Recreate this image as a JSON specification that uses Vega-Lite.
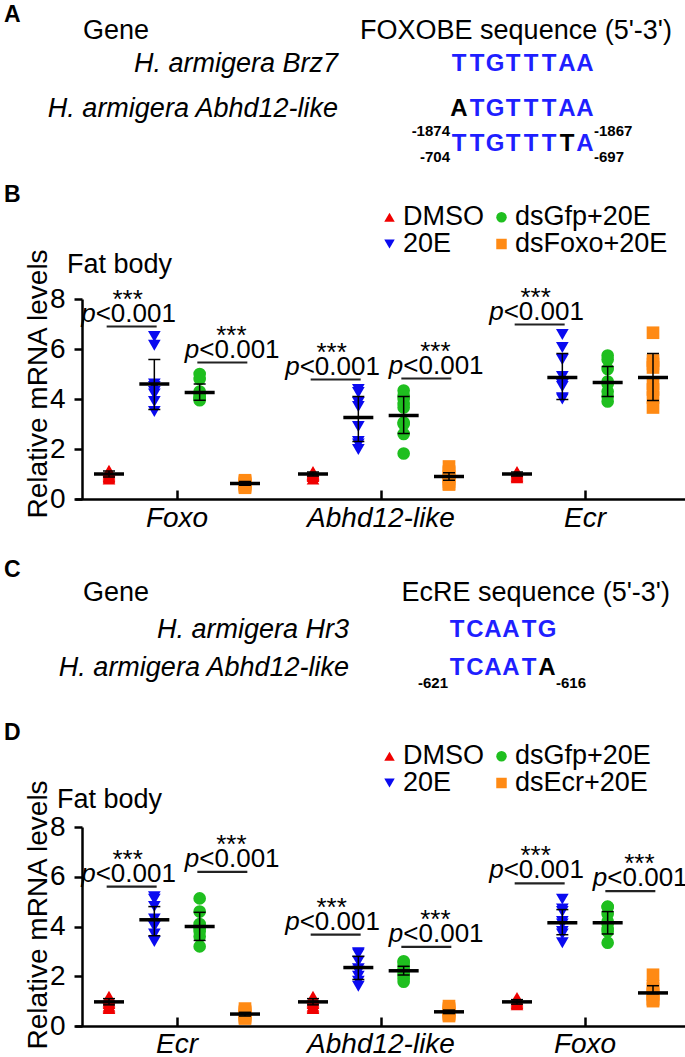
{
"$schema":"https://vega.github.io/schema/vega-lite/v6.json",
"padding":{"left":4,"top":0,"right":0,"bottom":0},
"spacing":0,
"bounds":"flush",
"resolve":{"scale":{"color":"independent","shape":"independent","x":"independent","y":"independent","xOffset":"independent"},"legend":{"color":"independent","shape":"independent"},"axis":{"x":"independent","y":"independent"}},
"config":{"font":"Liberation Sans","view":{"stroke":null},"tick":{"opacity":1},"point":{"opacity":1}},
"datasets":{
"txtA":[
{"t":"A","c":0,"ln":0,"s":"label"},
{"t":"Gene","c":1,"ln":1,"s":"head"},
{"t":"FOXOBE sequence (5'-3')","c":3,"ln":1,"s":"headR"},
{"t":"H. armigera Brz7","c":2,"ln":2,"s":"sp"},
{"t":"H. armigera Abhd12-like","c":2,"ln":3,"s":"sp"},
{"t":"B","c":0,"ln":7,"s":"label"},
{"t":"Fat body","c":4,"ln":8,"s":"head"}
],
"seqA":[
{"ln":2,"i":0,"b":"T","m":"y"},{"ln":2,"i":1,"b":"T","m":"y"},{"ln":2,"i":2,"b":"G","m":"y"},{"ln":2,"i":3,"b":"T","m":"y"},{"ln":2,"i":4,"b":"T","m":"y"},{"ln":2,"i":5,"b":"T","m":"y"},{"ln":2,"i":6,"b":"A","m":"y"},{"ln":2,"i":7,"b":"A","m":"y"},
{"ln":3,"i":0,"b":"A","m":"n"},{"ln":3,"i":1,"b":"T","m":"y"},{"ln":3,"i":2,"b":"G","m":"y"},{"ln":3,"i":3,"b":"T","m":"y"},{"ln":3,"i":4,"b":"T","m":"y"},{"ln":3,"i":5,"b":"T","m":"y"},{"ln":3,"i":6,"b":"A","m":"y"},{"ln":3,"i":7,"b":"A","m":"y"},
{"ln":5,"i":0,"b":"T","m":"y"},{"ln":5,"i":1,"b":"T","m":"y"},{"ln":5,"i":2,"b":"G","m":"y"},{"ln":5,"i":3,"b":"T","m":"y"},{"ln":5,"i":4,"b":"T","m":"y"},{"ln":5,"i":5,"b":"T","m":"y"},{"ln":5,"i":6,"b":"T","m":"n"},{"ln":5,"i":7,"b":"A","m":"y"}
],
"subA":[
{"t":"-1874","i":-0.5,"ln":4,"side":"L"},{"t":"-1867","i":7.5,"ln":4,"side":"R"},
{"t":"-704","i":-0.5,"ln":6,"side":"L"},{"t":"-697","i":7.5,"ln":6,"side":"R"}
],
"txtC":[
{"t":"C","c":0,"ln":0,"s":"label"},
{"t":"Gene","c":1,"ln":1,"s":"head"},
{"t":"EcRE sequence (5'-3')","c":3,"ln":1,"s":"headR"},
{"t":"H. armigera Hr3","c":2,"ln":2,"s":"sp"},
{"t":"H. armigera Abhd12-like","c":2,"ln":3,"s":"sp"},
{"t":"D","c":0,"ln":5,"s":"label"},
{"t":"Fat body","c":4,"ln":6,"s":"head"}
],
"seqC":[
{"ln":2,"i":0,"b":"T","m":"y"},{"ln":2,"i":1,"b":"C","m":"y"},{"ln":2,"i":2,"b":"A","m":"y"},{"ln":2,"i":3,"b":"A","m":"y"},{"ln":2,"i":4,"b":"T","m":"y"},{"ln":2,"i":5,"b":"G","m":"y"},
{"ln":3,"i":0,"b":"T","m":"y"},{"ln":3,"i":1,"b":"C","m":"y"},{"ln":3,"i":2,"b":"A","m":"y"},{"ln":3,"i":3,"b":"A","m":"y"},{"ln":3,"i":4,"b":"T","m":"y"},{"ln":3,"i":5,"b":"A","m":"n"}
],
"subC":[
{"t":"-621","i":-0.5,"ln":4,"side":"L"},{"t":"-616","i":5.5,"ln":4,"side":"R"}
],
"ptsB":[
{"gene":"Foxo","g":"DMSO","v":1.15},{"gene":"Foxo","g":"DMSO","v":1.1},{"gene":"Foxo","g":"DMSO","v":1.0},{"gene":"Foxo","g":"DMSO","v":0.95},{"gene":"Foxo","g":"DMSO","v":0.9},{"gene":"Foxo","g":"DMSO","v":0.85},{"gene":"Foxo","g":"DMSO","v":1.05},{"gene":"Foxo","g":"DMSO","v":0.8},
{"gene":"Foxo","g":"20E","v":6.5},{"gene":"Foxo","g":"20E","v":6.15},{"gene":"Foxo","g":"20E","v":4.6},{"gene":"Foxo","g":"20E","v":4.5},{"gene":"Foxo","g":"20E","v":4.3},{"gene":"Foxo","g":"20E","v":4.2},{"gene":"Foxo","g":"20E","v":3.9},{"gene":"Foxo","g":"20E","v":3.5},
{"gene":"Foxo","g":"dsGfp+20E","v":5.0},{"gene":"Foxo","g":"dsGfp+20E","v":4.8},{"gene":"Foxo","g":"dsGfp+20E","v":4.3},{"gene":"Foxo","g":"dsGfp+20E","v":4.2},{"gene":"Foxo","g":"dsGfp+20E","v":4.1},{"gene":"Foxo","g":"dsGfp+20E","v":4.0},{"gene":"Foxo","g":"dsGfp+20E","v":4.05},{"gene":"Foxo","g":"dsGfp+20E","v":3.95},
{"gene":"Foxo","g":"dsFoxo+20E","v":0.75},{"gene":"Foxo","g":"dsFoxo+20E","v":0.7},{"gene":"Foxo","g":"dsFoxo+20E","v":0.65},{"gene":"Foxo","g":"dsFoxo+20E","v":0.6},{"gene":"Foxo","g":"dsFoxo+20E","v":0.55},{"gene":"Foxo","g":"dsFoxo+20E","v":0.5},{"gene":"Foxo","g":"dsFoxo+20E","v":0.45},{"gene":"Foxo","g":"dsFoxo+20E","v":0.6},
{"gene":"Abhd12-like","g":"DMSO","v":1.1},{"gene":"Abhd12-like","g":"DMSO","v":1.05},{"gene":"Abhd12-like","g":"DMSO","v":1.0},{"gene":"Abhd12-like","g":"DMSO","v":0.95},{"gene":"Abhd12-like","g":"DMSO","v":0.9},{"gene":"Abhd12-like","g":"DMSO","v":0.8},{"gene":"Abhd12-like","g":"DMSO","v":1.0},{"gene":"Abhd12-like","g":"DMSO","v":0.95},
{"gene":"Abhd12-like","g":"20E","v":4.38},{"gene":"Abhd12-like","g":"20E","v":4.26},{"gene":"Abhd12-like","g":"20E","v":3.86},{"gene":"Abhd12-like","g":"20E","v":3.7},{"gene":"Abhd12-like","g":"20E","v":2.9},{"gene":"Abhd12-like","g":"20E","v":2.3},{"gene":"Abhd12-like","g":"20E","v":2.2},{"gene":"Abhd12-like","g":"20E","v":1.98},
{"gene":"Abhd12-like","g":"dsGfp+20E","v":4.34},{"gene":"Abhd12-like","g":"dsGfp+20E","v":4.14},{"gene":"Abhd12-like","g":"dsGfp+20E","v":4.0},{"gene":"Abhd12-like","g":"dsGfp+20E","v":3.8},{"gene":"Abhd12-like","g":"dsGfp+20E","v":3.66},{"gene":"Abhd12-like","g":"dsGfp+20E","v":3.06},{"gene":"Abhd12-like","g":"dsGfp+20E","v":3.0},{"gene":"Abhd12-like","g":"dsGfp+20E","v":2.6},{"gene":"Abhd12-like","g":"dsGfp+20E","v":1.82},
{"gene":"Abhd12-like","g":"dsFoxo+20E","v":1.3},{"gene":"Abhd12-like","g":"dsFoxo+20E","v":1.1},{"gene":"Abhd12-like","g":"dsFoxo+20E","v":1.05},{"gene":"Abhd12-like","g":"dsFoxo+20E","v":0.9},{"gene":"Abhd12-like","g":"dsFoxo+20E","v":0.8},{"gene":"Abhd12-like","g":"dsFoxo+20E","v":0.7},{"gene":"Abhd12-like","g":"dsFoxo+20E","v":0.6},{"gene":"Abhd12-like","g":"dsFoxo+20E","v":0.58},
{"gene":"Ecr","g":"DMSO","v":1.1},{"gene":"Ecr","g":"DMSO","v":1.05},{"gene":"Ecr","g":"DMSO","v":1.0},{"gene":"Ecr","g":"DMSO","v":0.95},{"gene":"Ecr","g":"DMSO","v":0.9},{"gene":"Ecr","g":"DMSO","v":0.85},
{"gene":"Ecr","g":"20E","v":6.58},{"gene":"Ecr","g":"20E","v":6.06},{"gene":"Ecr","g":"20E","v":5.58},{"gene":"Ecr","g":"20E","v":4.9},{"gene":"Ecr","g":"20E","v":4.58},{"gene":"Ecr","g":"20E","v":4.5},{"gene":"Ecr","g":"20E","v":4.05},{"gene":"Ecr","g":"20E","v":4.0},
{"gene":"Ecr","g":"dsGfp+20E","v":5.74},{"gene":"Ecr","g":"dsGfp+20E","v":5.58},{"gene":"Ecr","g":"dsGfp+20E","v":5.2},{"gene":"Ecr","g":"dsGfp+20E","v":4.7},{"gene":"Ecr","g":"dsGfp+20E","v":4.6},{"gene":"Ecr","g":"dsGfp+20E","v":4.3},{"gene":"Ecr","g":"dsGfp+20E","v":4.1},{"gene":"Ecr","g":"dsGfp+20E","v":3.9},
{"gene":"Ecr","g":"dsFoxo+20E","v":6.65},{"gene":"Ecr","g":"dsFoxo+20E","v":5.54},{"gene":"Ecr","g":"dsFoxo+20E","v":5.4},{"gene":"Ecr","g":"dsFoxo+20E","v":5.26},{"gene":"Ecr","g":"dsFoxo+20E","v":4.6},{"gene":"Ecr","g":"dsFoxo+20E","v":4.38},{"gene":"Ecr","g":"dsFoxo+20E","v":4.06},{"gene":"Ecr","g":"dsFoxo+20E","v":3.66}
],
"sumB":[
{"gene":"Foxo","g":"DMSO","mean":1.0,"lo":0.88,"hi":1.12},
{"gene":"Foxo","g":"20E","mean":4.6,"lo":3.58,"hi":5.58},
{"gene":"Foxo","g":"dsGfp+20E","mean":4.26,"lo":3.95,"hi":4.6},
{"gene":"Foxo","g":"dsFoxo+20E","mean":0.62,"lo":0.55,"hi":0.7},
{"gene":"Abhd12-like","g":"DMSO","mean":1.0,"lo":0.92,"hi":1.08},
{"gene":"Abhd12-like","g":"20E","mean":3.26,"lo":2.3,"hi":4.1},
{"gene":"Abhd12-like","g":"dsGfp+20E","mean":3.34,"lo":2.62,"hi":4.1},
{"gene":"Abhd12-like","g":"dsFoxo+20E","mean":0.9,"lo":0.75,"hi":1.05},
{"gene":"Ecr","g":"DMSO","mean":1.0,"lo":0.92,"hi":1.08},
{"gene":"Ecr","g":"20E","mean":4.86,"lo":3.98,"hi":5.82},
{"gene":"Ecr","g":"dsGfp+20E","mean":4.66,"lo":4.1,"hi":5.3},
{"gene":"Ecr","g":"dsFoxo+20E","mean":4.86,"lo":3.94,"hi":5.82}
],
"sigB":[
{"gene":"Foxo","g":"L","y":6.9},{"gene":"Foxo","g":"R","y":5.46},
{"gene":"Abhd12-like","g":"L","y":4.78},{"gene":"Abhd12-like","g":"R","y":4.82},
{"gene":"Ecr","g":"L","y":6.98}
],
"ptsD":[
{"gene":"Ecr","g":"DMSO","v":1.2},{"gene":"Ecr","g":"DMSO","v":1.1},{"gene":"Ecr","g":"DMSO","v":1.0},{"gene":"Ecr","g":"DMSO","v":0.95},{"gene":"Ecr","g":"DMSO","v":0.9},{"gene":"Ecr","g":"DMSO","v":0.8},{"gene":"Ecr","g":"DMSO","v":0.75},{"gene":"Ecr","g":"DMSO","v":0.7},
{"gene":"Ecr","g":"20E","v":5.2},{"gene":"Ecr","g":"20E","v":5.1},{"gene":"Ecr","g":"20E","v":4.8},{"gene":"Ecr","g":"20E","v":4.3},{"gene":"Ecr","g":"20E","v":4.1},{"gene":"Ecr","g":"20E","v":4.0},{"gene":"Ecr","g":"20E","v":3.7},{"gene":"Ecr","g":"20E","v":3.4},
{"gene":"Ecr","g":"dsGfp+20E","v":5.13},{"gene":"Ecr","g":"dsGfp+20E","v":4.6},{"gene":"Ecr","g":"dsGfp+20E","v":4.1},{"gene":"Ecr","g":"dsGfp+20E","v":4.0},{"gene":"Ecr","g":"dsGfp+20E","v":3.9},{"gene":"Ecr","g":"dsGfp+20E","v":3.8},{"gene":"Ecr","g":"dsGfp+20E","v":3.6},{"gene":"Ecr","g":"dsGfp+20E","v":3.2},
{"gene":"Ecr","g":"dsEcr+20E","v":0.7},{"gene":"Ecr","g":"dsEcr+20E","v":0.6},{"gene":"Ecr","g":"dsEcr+20E","v":0.55},{"gene":"Ecr","g":"dsEcr+20E","v":0.5},{"gene":"Ecr","g":"dsEcr+20E","v":0.45},{"gene":"Ecr","g":"dsEcr+20E","v":0.4},{"gene":"Ecr","g":"dsEcr+20E","v":0.35},{"gene":"Ecr","g":"dsEcr+20E","v":0.3},
{"gene":"Abhd12-like","g":"DMSO","v":1.2},{"gene":"Abhd12-like","g":"DMSO","v":1.1},{"gene":"Abhd12-like","g":"DMSO","v":1.0},{"gene":"Abhd12-like","g":"DMSO","v":0.95},{"gene":"Abhd12-like","g":"DMSO","v":0.9},{"gene":"Abhd12-like","g":"DMSO","v":0.8},{"gene":"Abhd12-like","g":"DMSO","v":0.75},{"gene":"Abhd12-like","g":"DMSO","v":0.7},
{"gene":"Abhd12-like","g":"20E","v":2.95},{"gene":"Abhd12-like","g":"20E","v":2.9},{"gene":"Abhd12-like","g":"20E","v":2.6},{"gene":"Abhd12-like","g":"20E","v":2.3},{"gene":"Abhd12-like","g":"20E","v":2.2},{"gene":"Abhd12-like","g":"20E","v":2.0},{"gene":"Abhd12-like","g":"20E","v":1.8},{"gene":"Abhd12-like","g":"20E","v":1.6},
{"gene":"Abhd12-like","g":"dsGfp+20E","v":2.6},{"gene":"Abhd12-like","g":"dsGfp+20E","v":2.55},{"gene":"Abhd12-like","g":"dsGfp+20E","v":2.4},{"gene":"Abhd12-like","g":"dsGfp+20E","v":2.3},{"gene":"Abhd12-like","g":"dsGfp+20E","v":2.2},{"gene":"Abhd12-like","g":"dsGfp+20E","v":2.1},{"gene":"Abhd12-like","g":"dsGfp+20E","v":2.0},{"gene":"Abhd12-like","g":"dsGfp+20E","v":1.9},{"gene":"Abhd12-like","g":"dsGfp+20E","v":1.78},
{"gene":"Abhd12-like","g":"dsEcr+20E","v":0.8},{"gene":"Abhd12-like","g":"dsEcr+20E","v":0.7},{"gene":"Abhd12-like","g":"dsEcr+20E","v":0.65},{"gene":"Abhd12-like","g":"dsEcr+20E","v":0.6},{"gene":"Abhd12-like","g":"dsEcr+20E","v":0.55},{"gene":"Abhd12-like","g":"dsEcr+20E","v":0.5},{"gene":"Abhd12-like","g":"dsEcr+20E","v":0.45},{"gene":"Abhd12-like","g":"dsEcr+20E","v":0.4},
{"gene":"Foxo","g":"DMSO","v":1.15},{"gene":"Foxo","g":"DMSO","v":1.05},{"gene":"Foxo","g":"DMSO","v":1.0},{"gene":"Foxo","g":"DMSO","v":0.95},{"gene":"Foxo","g":"DMSO","v":0.9},{"gene":"Foxo","g":"DMSO","v":0.85},
{"gene":"Foxo","g":"20E","v":5.1},{"gene":"Foxo","g":"20E","v":4.7},{"gene":"Foxo","g":"20E","v":4.6},{"gene":"Foxo","g":"20E","v":4.2},{"gene":"Foxo","g":"20E","v":4.1},{"gene":"Foxo","g":"20E","v":3.8},{"gene":"Foxo","g":"20E","v":3.7},{"gene":"Foxo","g":"20E","v":3.35},
{"gene":"Foxo","g":"dsGfp+20E","v":4.8},{"gene":"Foxo","g":"dsGfp+20E","v":4.78},{"gene":"Foxo","g":"dsGfp+20E","v":4.5},{"gene":"Foxo","g":"dsGfp+20E","v":4.2},{"gene":"Foxo","g":"dsGfp+20E","v":4.1},{"gene":"Foxo","g":"dsGfp+20E","v":3.9},{"gene":"Foxo","g":"dsGfp+20E","v":3.8},{"gene":"Foxo","g":"dsGfp+20E","v":3.35},
{"gene":"Foxo","g":"dsEcr+20E","v":2.06},{"gene":"Foxo","g":"dsEcr+20E","v":1.6},{"gene":"Foxo","g":"dsEcr+20E","v":1.5},{"gene":"Foxo","g":"dsEcr+20E","v":1.3},{"gene":"Foxo","g":"dsEcr+20E","v":1.25},{"gene":"Foxo","g":"dsEcr+20E","v":1.1},{"gene":"Foxo","g":"dsEcr+20E","v":1.05},{"gene":"Foxo","g":"dsEcr+20E","v":1.0}
],
"sumD":[
{"gene":"Ecr","g":"DMSO","mean":0.97,"lo":0.85,"hi":1.1},
{"gene":"Ecr","g":"20E","mean":4.27,"lo":3.63,"hi":4.8},
{"gene":"Ecr","g":"dsGfp+20E","mean":4.0,"lo":3.44,"hi":4.57},
{"gene":"Ecr","g":"dsEcr+20E","mean":0.48,"lo":0.4,"hi":0.55},
{"gene":"Abhd12-like","g":"DMSO","mean":0.97,"lo":0.85,"hi":1.1},
{"gene":"Abhd12-like","g":"20E","mean":2.35,"lo":1.87,"hi":2.8},
{"gene":"Abhd12-like","g":"dsGfp+20E","mean":2.22,"lo":2.05,"hi":2.4},
{"gene":"Abhd12-like","g":"dsEcr+20E","mean":0.57,"lo":0.5,"hi":0.64},
{"gene":"Foxo","g":"DMSO","mean":0.97,"lo":0.88,"hi":1.06},
{"gene":"Foxo","g":"20E","mean":4.15,"lo":3.67,"hi":4.68},
{"gene":"Foxo","g":"dsGfp+20E","mean":4.15,"lo":3.7,"hi":4.6},
{"gene":"Foxo","g":"dsEcr+20E","mean":1.33,"lo":1.3,"hi":1.62}
],
"sigD":[
{"gene":"Ecr","g":"L","y":5.6},{"gene":"Ecr","g":"R","y":6.2},
{"gene":"Abhd12-like","g":"L","y":3.67},{"gene":"Abhd12-like","g":"R","y":3.18},
{"gene":"Foxo","g":"L","y":5.73},{"gene":"Foxo","g":"R","y":5.42}
]
},
"vconcat":[
{
"width":600,"height":299,
"resolve":{"scale":{"x":"independent"}},
"encoding":{"y":{"field":"ln","type":"quantitative","scale":{"domain":[0,1,2,3,4,5,6,7,8],"range":[14.5,31,64,109,131,144,157,195,265],"nice":false,"zero":false},"axis":null}},
"layer":[
{"data":{"name":"txtA"},"transform":[{"filter":"datum.s==='label'"}],"mark":{"type":"text","align":"left","baseline":"middle","fontSize":23,"fontWeight":"bold","color":"#000"},
"encoding":{"x":{"field":"c","type":"quantitative","scale":{"domain":[0,1,2,3,4],"range":[-78,1,256,590,-15],"nice":false,"zero":false},"axis":null},"text":{"field":"t"}}},
{"data":{"name":"txtA"},"transform":[{"filter":"datum.s==='head'"}],"mark":{"type":"text","align":"left","baseline":"middle","fontSize":27,"color":"#000"},
"encoding":{"x":{"field":"c","type":"quantitative","scale":{"domain":[0,1,2,3,4],"range":[-78,1,256,590,-15],"nice":false,"zero":false},"axis":null},"text":{"field":"t"}}},
{"data":{"name":"txtA"},"transform":[{"filter":"datum.s==='headR'"}],"mark":{"type":"text","align":"right","baseline":"middle","fontSize":27,"color":"#000"},
"encoding":{"x":{"field":"c","type":"quantitative","scale":{"domain":[0,1,2,3,4],"range":[-78,1,256,590,-15],"nice":false,"zero":false},"axis":null},"text":{"field":"t"}}},
{"data":{"name":"txtA"},"transform":[{"filter":"datum.s==='sp'"}],"mark":{"type":"text","align":"right","baseline":"middle","fontSize":27,"fontStyle":"italic","color":"#000"},
"encoding":{"x":{"field":"c","type":"quantitative","scale":{"domain":[0,1,2,3,4],"range":[-78,1,256,590,-15],"nice":false,"zero":false},"axis":null},"text":{"field":"t"}}},
{"data":{"name":"seqA"},"mark":{"type":"text","align":"center","baseline":"middle","fontSize":24,"fontWeight":"bold"},
"encoding":{"x":{"field":"i","type":"quantitative","scale":{"domain":[-0.5,7.5],"range":[368,512],"nice":false,"zero":false},"axis":null},"text":{"field":"b"},
"color":{"field":"m","type":"nominal","scale":{"domain":["y","n"],"range":["#1f1fff","#000000"]},"legend":null}}},
{"data":{"name":"subA"},"transform":[{"filter":"datum.side==='L'"}],"mark":{"type":"text","align":"right","baseline":"middle","fontSize":15,"fontWeight":"bold","color":"#000"},
"encoding":{"x":{"field":"i","type":"quantitative","scale":{"domain":[-0.5,7.5],"range":[368,512],"nice":false,"zero":false},"axis":null},"text":{"field":"t"}}},
{"data":{"name":"subA"},"transform":[{"filter":"datum.side==='R'"}],"mark":{"type":"text","align":"left","baseline":"middle","fontSize":15,"fontWeight":"bold","color":"#000"},
"encoding":{"x":{"field":"i","type":"quantitative","scale":{"domain":[-0.5,7.5],"range":[368,512],"nice":false,"zero":false},"axis":null},"text":{"field":"t"}}}
]
},
{
"width":600,"height":200,
"encoding":{
"x":{"field":"gene","type":"nominal","sort":null,"scale":{"domain":["Foxo","Abhd12-like","Ecr"],"range":[-7,605],"paddingInner":0,"paddingOuter":0},"axis":{"title":null,"labelAngle":0,"labelFontSize":28,"labelFontStyle":"italic","labelColor":"#000","tickSize":-9,"tickWidth":2.5,"tickColor":"#000","domainWidth":2.5,"domainColor":"#000","labelPadding":14}},
"xOffset":{"field":"g","type":"nominal","sort":null,"scale":{"domain":["DMSO","L","20E","C","dsGfp+20E","R","dsFoxo+20E"],"paddingInner":0,"paddingOuter":1}}
},
"layer":[
{"data":{"name":"ptsB"},"mark":{"type":"point","filled":true,"opacity":1,"size":160,"strokeWidth":0},
"encoding":{
"y":{"field":"v","type":"quantitative","title":"Relative mRNA levels","scale":{"domain":[0,8],"nice":false},"axis":{"values":[0,2,4,6,8],"grid":false,"titleFontSize":28,"titleFontWeight":"normal","titleColor":"#000","titleAngle":-90,"titleX":-44,"titleY":84.5,"titleAlign":"center","titleBaseline":"middle","labelFontSize":28,"labelColor":"#000","tickSize":8,"tickWidth":2.5,"tickColor":"#000","domainWidth":2.5,"domainColor":"#000","labelPadding":9}},
"color":{"field":"g","type":"nominal","scale":{"domain":["DMSO","20E","dsGfp+20E","dsFoxo+20E"],"range":["#f00000","#0a0af0","#1fbf1f","#ff8a14"]},"legend":{"title":null,"orient":"none","legendX":294,"legendY":-95.5,"columns":2,"labelFontSize":27,"labelColor":"#000","symbolSize":110,"labelOffset":0,"columnPadding":4,"rowPadding":-2,"padding":0}},
"shape":{"field":"g","type":"nominal","scale":{"domain":["DMSO","20E","dsGfp+20E","dsFoxo+20E"],"range":["triangle-up","triangle-down","circle","square"]},"legend":{"title":null,"orient":"none","legendX":294,"legendY":-95.5,"columns":2,"labelFontSize":27,"labelColor":"#000","symbolSize":110,"labelOffset":0,"columnPadding":4,"rowPadding":-2,"padding":0}}
}},
{"data":{"name":"sumB"},"mark":{"type":"rule","color":"#000","strokeWidth":1.5,"opacity":1},"encoding":{"y":{"field":"lo","type":"quantitative","title":"Relative mRNA levels"},"y2":{"field":"hi"}}},
{"data":{"name":"sumB"},"mark":{"type":"tick","color":"#000","size":12,"thickness":1.5,"opacity":1},"encoding":{"y":{"field":"hi","type":"quantitative","title":"Relative mRNA levels"}}},
{"data":{"name":"sumB"},"mark":{"type":"tick","color":"#000","size":12,"thickness":1.5,"opacity":1},"encoding":{"y":{"field":"lo","type":"quantitative","title":"Relative mRNA levels"}}},
{"data":{"name":"sumB"},"mark":{"type":"tick","color":"#000","size":30,"thickness":3.5,"opacity":1},"encoding":{"y":{"field":"mean","type":"quantitative","title":"Relative mRNA levels"}}},
{"data":{"name":"sigB"},"mark":{"type":"tick","color":"#222","size":50,"thickness":2.2,"opacity":1},"encoding":{"y":{"field":"y","type":"quantitative","title":"Relative mRNA levels"}}},
{"data":{"name":"sigB"},"transform":[{"filter":"datum.g==='L'"}],"mark":{"type":"text","text":"***","fontSize":26,"baseline":"middle","dx":-4,"dy":-27,"color":"#000"},"encoding":{"y":{"field":"y","type":"quantitative","title":"Relative mRNA levels"}}},
{"data":{"name":"sigB"},"transform":[{"filter":"datum.g==='L'"}],"mark":{"type":"text","text":"p","fontSize":26,"fontStyle":"italic","align":"right","baseline":"middle","dx":-36,"dy":-13,"color":"#000"},"encoding":{"y":{"field":"y","type":"quantitative","title":"Relative mRNA levels"}}},
{"data":{"name":"sigB"},"transform":[{"filter":"datum.g==='L'"}],"mark":{"type":"text","text":"<0.001","fontSize":26,"align":"left","baseline":"middle","dx":-36,"dy":-13,"color":"#000"},"encoding":{"y":{"field":"y","type":"quantitative","title":"Relative mRNA levels"}}},
{"data":{"name":"sigB"},"transform":[{"filter":"datum.g==='R'"}],"mark":{"type":"text","text":"***","fontSize":26,"baseline":"middle","dx":9,"dy":-27,"color":"#000"},"encoding":{"y":{"field":"y","type":"quantitative","title":"Relative mRNA levels"}}},
{"data":{"name":"sigB"},"transform":[{"filter":"datum.g==='R'"}],"mark":{"type":"text","text":"p","fontSize":26,"fontStyle":"italic","align":"right","baseline":"middle","dx":-23,"dy":-13,"color":"#000"},"encoding":{"y":{"field":"y","type":"quantitative","title":"Relative mRNA levels"}}},
{"data":{"name":"sigB"},"transform":[{"filter":"datum.g==='R'"}],"mark":{"type":"text","text":"<0.001","fontSize":26,"align":"left","baseline":"middle","dx":-23,"dy":-13,"color":"#000"},"encoding":{"y":{"field":"y","type":"quantitative","title":"Relative mRNA levels"}}}
]
},
{
"width":600,"height":328,
"resolve":{"scale":{"x":"independent"}},
"encoding":{"y":{"field":"ln","type":"quantitative","scale":{"domain":[0,1,2,3,4,5,6],"range":[71,94,131,169,184,234,301],"nice":false,"zero":false},"axis":null}},
"layer":[
{"data":{"name":"txtC"},"transform":[{"filter":"datum.s==='label'"}],"mark":{"type":"text","align":"left","baseline":"middle","fontSize":23,"fontWeight":"bold","color":"#000"},
"encoding":{"x":{"field":"c","type":"quantitative","scale":{"domain":[0,1,2,3,4],"range":[-78,1,267,588,-25],"nice":false,"zero":false},"axis":null},"text":{"field":"t"}}},
{"data":{"name":"txtC"},"transform":[{"filter":"datum.s==='head'"}],"mark":{"type":"text","align":"left","baseline":"middle","fontSize":27,"color":"#000"},
"encoding":{"x":{"field":"c","type":"quantitative","scale":{"domain":[0,1,2,3,4],"range":[-78,1,267,588,-25],"nice":false,"zero":false},"axis":null},"text":{"field":"t"}}},
{"data":{"name":"txtC"},"transform":[{"filter":"datum.s==='headR'"}],"mark":{"type":"text","align":"right","baseline":"middle","fontSize":27,"color":"#000"},
"encoding":{"x":{"field":"c","type":"quantitative","scale":{"domain":[0,1,2,3,4],"range":[-78,1,267,588,-25],"nice":false,"zero":false},"axis":null},"text":{"field":"t"}}},
{"data":{"name":"txtC"},"transform":[{"filter":"datum.s==='sp'"}],"mark":{"type":"text","align":"right","baseline":"middle","fontSize":27,"fontStyle":"italic","color":"#000"},
"encoding":{"x":{"field":"c","type":"quantitative","scale":{"domain":[0,1,2,3,4],"range":[-78,1,267,588,-25],"nice":false,"zero":false},"axis":null},"text":{"field":"t"}}},
{"data":{"name":"seqC"},"mark":{"type":"text","align":"center","baseline":"middle","fontSize":24,"fontWeight":"bold"},
"encoding":{"x":{"field":"i","type":"quantitative","scale":{"domain":[-0.5,7.5],"range":[366,510],"nice":false,"zero":false},"axis":null},"text":{"field":"b"},
"color":{"field":"m","type":"nominal","scale":{"domain":["y","n"],"range":["#1f1fff","#000000"]},"legend":null}}},
{"data":{"name":"subC"},"transform":[{"filter":"datum.side==='L'"}],"mark":{"type":"text","align":"right","baseline":"middle","fontSize":15,"fontWeight":"bold","color":"#000"},
"encoding":{"x":{"field":"i","type":"quantitative","scale":{"domain":[-0.5,7.5],"range":[366,510],"nice":false,"zero":false},"axis":null},"text":{"field":"t"}}},
{"data":{"name":"subC"},"transform":[{"filter":"datum.side==='R'"}],"mark":{"type":"text","align":"left","baseline":"middle","fontSize":15,"fontWeight":"bold","color":"#000"},
"encoding":{"x":{"field":"i","type":"quantitative","scale":{"domain":[-0.5,7.5],"range":[366,510],"nice":false,"zero":false},"axis":null},"text":{"field":"t"}}}
]
},
{
"width":600,"height":199,
"encoding":{
"x":{"field":"gene","type":"nominal","sort":null,"scale":{"domain":["Ecr","Abhd12-like","Foxo"],"range":[-7,605],"paddingInner":0,"paddingOuter":0},"axis":{"title":null,"labelAngle":0,"labelFontSize":28,"labelFontStyle":"italic","labelColor":"#000","tickSize":-9,"tickWidth":2.5,"tickColor":"#000","domainWidth":2.5,"domainColor":"#000","labelPadding":13}},
"xOffset":{"field":"g","type":"nominal","sort":null,"scale":{"domain":["DMSO","L","20E","C","dsGfp+20E","R","dsEcr+20E"],"paddingInner":0,"paddingOuter":1}}
},
"layer":[
{"data":{"name":"ptsD"},"mark":{"type":"point","filled":true,"opacity":1,"size":160,"strokeWidth":0},
"encoding":{
"y":{"field":"v","type":"quantitative","title":"Relative mRNA levels","scale":{"domain":[0,8],"nice":false},"axis":{"values":[0,2,4,6,8],"grid":false,"titleFontSize":28,"titleFontWeight":"normal","titleColor":"#000","titleAngle":-90,"titleX":-44,"titleY":87.5,"titleAlign":"center","titleBaseline":"middle","labelFontSize":28,"labelColor":"#000","tickSize":8,"tickWidth":2.5,"tickColor":"#000","domainWidth":2.5,"domainColor":"#000","labelPadding":9}},
"color":{"field":"g","type":"nominal","scale":{"domain":["DMSO","20E","dsGfp+20E","dsEcr+20E"],"range":["#f00000","#0a0af0","#1fbf1f","#ff8a14"]},"legend":{"title":null,"orient":"none","legendX":294,"legendY":-84.5,"columns":2,"labelFontSize":27,"labelColor":"#000","symbolSize":110,"labelOffset":0,"columnPadding":4,"rowPadding":-6,"padding":0}},
"shape":{"field":"g","type":"nominal","scale":{"domain":["DMSO","20E","dsGfp+20E","dsEcr+20E"],"range":["triangle-up","triangle-down","circle","square"]},"legend":{"title":null,"orient":"none","legendX":294,"legendY":-84.5,"columns":2,"labelFontSize":27,"labelColor":"#000","symbolSize":110,"labelOffset":0,"columnPadding":4,"rowPadding":-6,"padding":0}}
}},
{"data":{"name":"sumD"},"mark":{"type":"rule","color":"#000","strokeWidth":1.5,"opacity":1},"encoding":{"y":{"field":"lo","type":"quantitative","title":"Relative mRNA levels"},"y2":{"field":"hi"}}},
{"data":{"name":"sumD"},"mark":{"type":"tick","color":"#000","size":12,"thickness":1.5,"opacity":1},"encoding":{"y":{"field":"hi","type":"quantitative","title":"Relative mRNA levels"}}},
{"data":{"name":"sumD"},"mark":{"type":"tick","color":"#000","size":12,"thickness":1.5,"opacity":1},"encoding":{"y":{"field":"lo","type":"quantitative","title":"Relative mRNA levels"}}},
{"data":{"name":"sumD"},"mark":{"type":"tick","color":"#000","size":30,"thickness":3.5,"opacity":1},"encoding":{"y":{"field":"mean","type":"quantitative","title":"Relative mRNA levels"}}},
{"data":{"name":"sigD"},"mark":{"type":"tick","color":"#222","size":50,"thickness":2.2,"opacity":1},"encoding":{"y":{"field":"y","type":"quantitative","title":"Relative mRNA levels"}}},
{"data":{"name":"sigD"},"transform":[{"filter":"datum.g==='L'"}],"mark":{"type":"text","text":"***","fontSize":26,"baseline":"middle","dx":-4,"dy":-27,"color":"#000"},"encoding":{"y":{"field":"y","type":"quantitative","title":"Relative mRNA levels"}}},
{"data":{"name":"sigD"},"transform":[{"filter":"datum.g==='L'"}],"mark":{"type":"text","text":"p","fontSize":26,"fontStyle":"italic","align":"right","baseline":"middle","dx":-36,"dy":-13,"color":"#000"},"encoding":{"y":{"field":"y","type":"quantitative","title":"Relative mRNA levels"}}},
{"data":{"name":"sigD"},"transform":[{"filter":"datum.g==='L'"}],"mark":{"type":"text","text":"<0.001","fontSize":26,"align":"left","baseline":"middle","dx":-36,"dy":-13,"color":"#000"},"encoding":{"y":{"field":"y","type":"quantitative","title":"Relative mRNA levels"}}},
{"data":{"name":"sigD"},"transform":[{"filter":"datum.g==='R'"}],"mark":{"type":"text","text":"***","fontSize":26,"baseline":"middle","dx":9,"dy":-27,"color":"#000"},"encoding":{"y":{"field":"y","type":"quantitative","title":"Relative mRNA levels"}}},
{"data":{"name":"sigD"},"transform":[{"filter":"datum.g==='R'"}],"mark":{"type":"text","text":"p","fontSize":26,"fontStyle":"italic","align":"right","baseline":"middle","dx":-23,"dy":-13,"color":"#000"},"encoding":{"y":{"field":"y","type":"quantitative","title":"Relative mRNA levels"}}},
{"data":{"name":"sigD"},"transform":[{"filter":"datum.g==='R'"}],"mark":{"type":"text","text":"<0.001","fontSize":26,"align":"left","baseline":"middle","dx":-23,"dy":-13,"color":"#000"},"encoding":{"y":{"field":"y","type":"quantitative","title":"Relative mRNA levels"}}}
]
}
]
}
